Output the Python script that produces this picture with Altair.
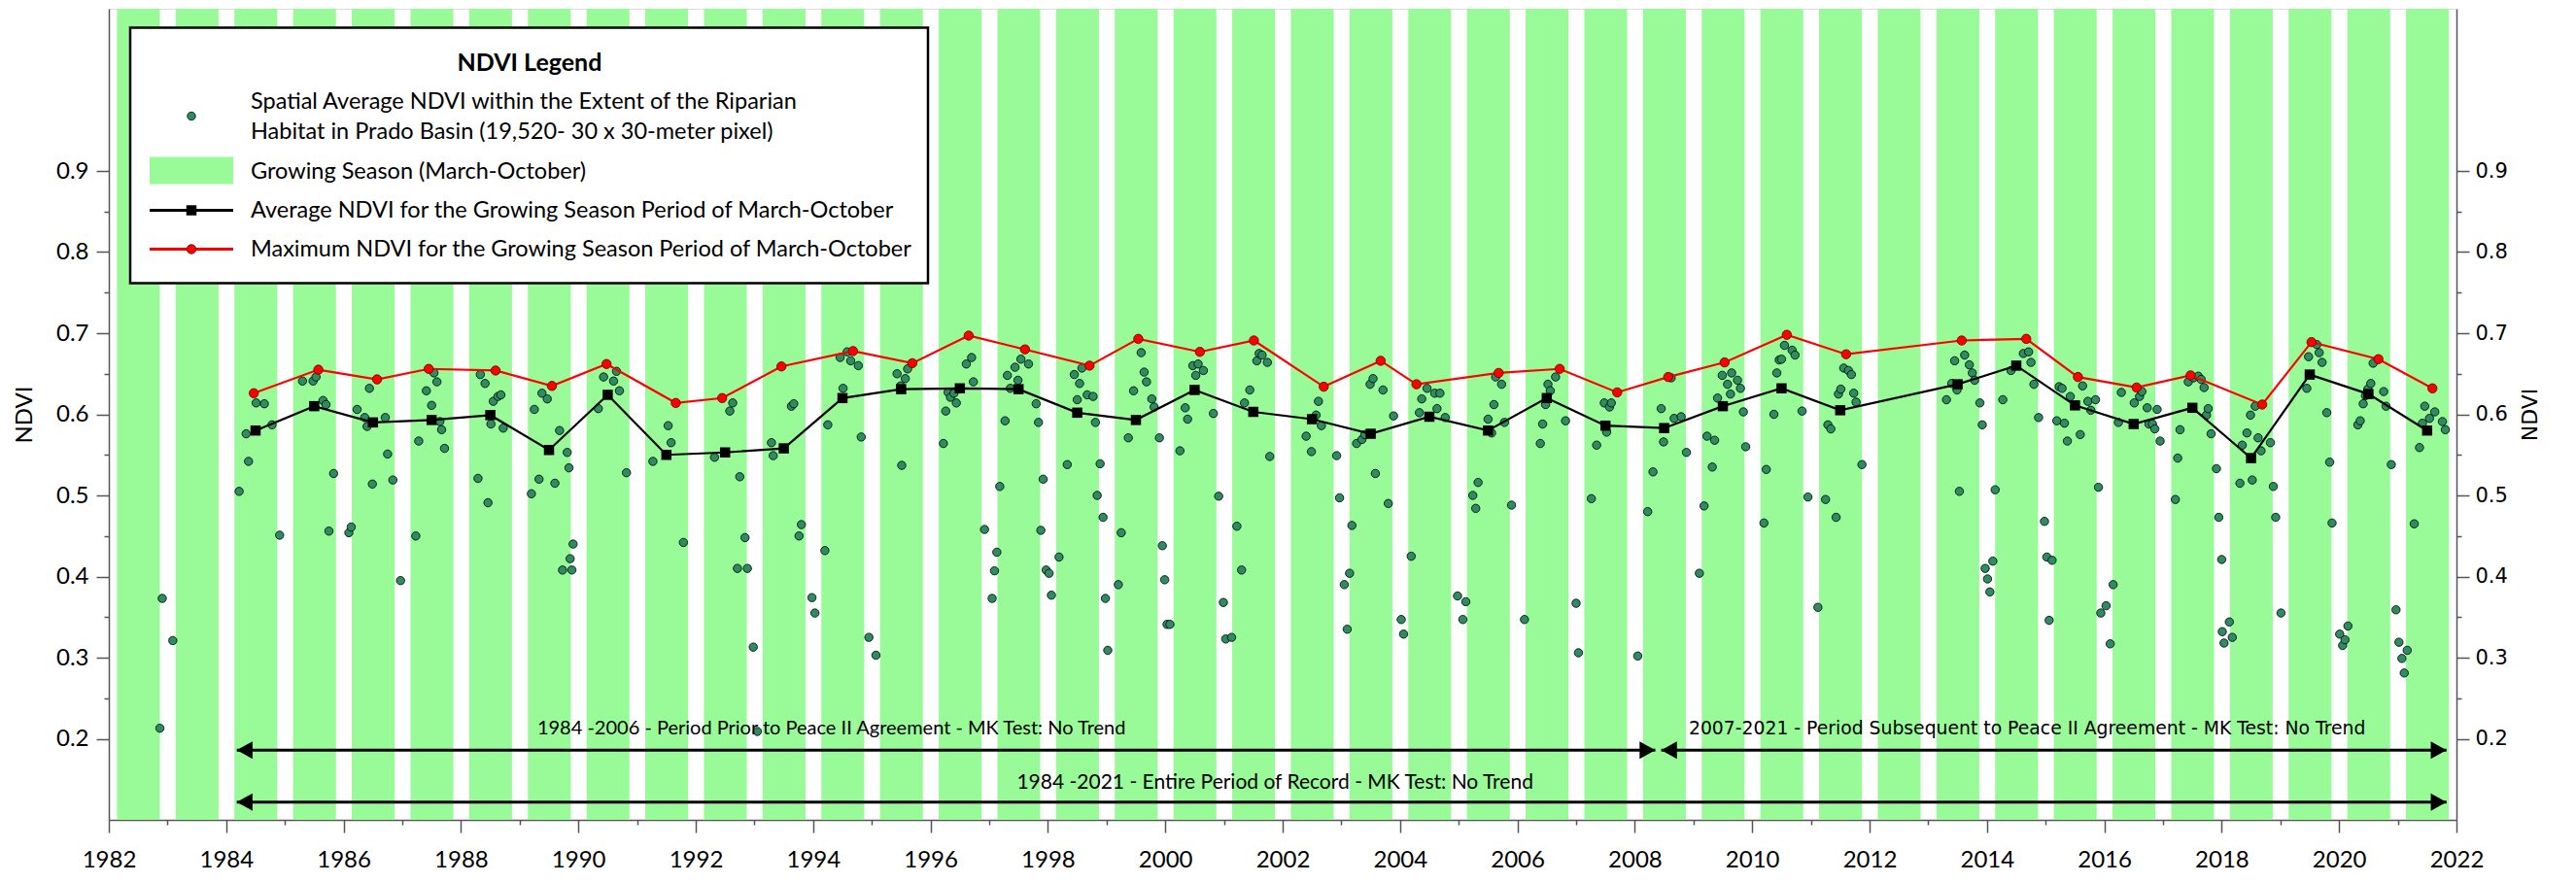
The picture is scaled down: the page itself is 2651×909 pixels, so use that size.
import altair as alt
import pandas as pd

# ---------------- data ----------------
season_years = list(range(1982, 2022))
season_start = 0.14   # fraction of year (March)
season_end = 0.87     # fraction of year (end of October)

avg_years = [1984, 1985, 1986, 1987, 1988, 1989, 1990, 1991, 1992, 1993, 1994, 1995,
             1996, 1997, 1998, 1999, 2000, 2001, 2002, 2003, 2004, 2005, 2006, 2007,
             2008, 2009, 2010, 2011, 2013, 2014, 2015, 2016, 2017, 2018, 2019, 2020, 2021]
avg_ndvi = [0.580, 0.610, 0.590, 0.593, 0.599, 0.556, 0.624, 0.550, 0.553, 0.558, 0.620, 0.631,
            0.632, 0.631, 0.602, 0.593, 0.630, 0.603, 0.594, 0.576, 0.597, 0.580, 0.620, 0.586,
            0.583, 0.610, 0.632, 0.605, 0.637, 0.660, 0.611, 0.588, 0.608, 0.546, 0.649, 0.625, 0.580]

max_date = [1984.47, 1985.57, 1986.57, 1987.45, 1988.59, 1989.55, 1990.48, 1991.66, 1992.45,
            1993.46, 1994.68, 1995.69, 1996.65, 1997.61, 1998.71, 1999.54, 2000.59, 2001.51,
            2002.70, 2003.67, 2004.28, 2005.68, 2006.72, 2007.70, 2008.57, 2009.53, 2010.59,
            2011.60, 2013.57, 2014.67, 2015.55, 2016.55, 2017.47, 2018.69, 2019.53, 2020.67, 2021.59]
max_ndvi = [0.626, 0.655, 0.643, 0.656, 0.654, 0.635, 0.662, 0.614, 0.620, 0.659, 0.678, 0.663,
            0.697, 0.680, 0.660, 0.693, 0.677, 0.691, 0.634, 0.666, 0.637, 0.651, 0.656, 0.627,
            0.646, 0.664, 0.698, 0.674, 0.691, 0.693, 0.646, 0.633, 0.648, 0.612, 0.689, 0.668, 0.632]

obs_date = [
    1982.87, 1982.91, 1983.09,
    1984.22, 1984.34, 1984.38, 1984.51, 1984.65, 1984.78, 1984.91,
    1985.30, 1985.48, 1985.53, 1985.65, 1985.70, 1985.75, 1985.83,
    1986.09, 1986.13, 1986.23, 1986.36, 1986.40, 1986.44, 1986.49, 1986.71, 1986.75, 1986.84, 1986.97,
    1987.23, 1987.28, 1987.41, 1987.50, 1987.54, 1987.59, 1987.64, 1987.67, 1987.72,
    1988.29, 1988.33, 1988.41, 1988.46, 1988.51, 1988.55, 1988.63, 1988.68, 1988.72,
    1989.20, 1989.25, 1989.33, 1989.38, 1989.47, 1989.60, 1989.68, 1989.81, 1989.84, 1989.91, 1989.86, 1989.73, 1989.89,
    1990.34, 1990.43, 1990.60, 1990.65, 1990.70, 1990.82,
    1991.27, 1991.53, 1991.58, 1991.79,
    1992.32, 1992.58, 1992.63, 1992.75, 1992.84, 1992.71, 1992.88, 1992.98,
    1993.05, 1993.29, 1993.32, 1993.63, 1993.67, 1993.76, 1993.80, 1993.98, 1994.03,
    1994.20, 1994.25, 1994.46, 1994.51, 1994.58, 1994.64, 1994.77, 1994.82, 1994.95, 1995.07,
    1995.43, 1995.49, 1995.51, 1995.57, 1995.61,
    1996.22, 1996.26, 1996.30, 1996.34, 1996.40, 1996.44, 1996.61, 1996.70, 1996.73, 1996.92,
    1997.05, 1997.09, 1997.13, 1997.18, 1997.27, 1997.31, 1997.36, 1997.44, 1997.49, 1997.54, 1997.67,
    1997.80, 1997.84, 1997.88, 1997.92, 1997.97, 1998.02, 1998.06,
    1998.19, 1998.33, 1998.45, 1998.50, 1998.54, 1998.58, 1998.67, 1998.77, 1998.81, 1998.84, 1998.89,
    1998.94, 1998.98, 1999.02,
    1999.20, 1999.25, 1999.37, 1999.46, 1999.59, 1999.64, 1999.68, 1999.77, 1999.81, 1999.90, 1999.95,
    1999.99, 2000.03, 2000.08,
    2000.25, 2000.34, 2000.38, 2000.47, 2000.52, 2000.56, 2000.65, 2000.82, 2000.91, 2000.99, 2001.03, 2001.13,
    2001.22, 2001.30, 2001.35, 2001.44, 2001.56, 2001.60, 2001.65, 2001.74, 2001.78,
    2002.40, 2002.49, 2002.57, 2002.61, 2002.66, 2002.92, 2002.97, 2003.05, 2003.10, 2003.14, 2003.18,
    2003.26, 2003.35, 2003.40, 2003.49, 2003.54, 2003.58, 2003.71, 2003.80, 2003.89, 2004.02, 2004.06, 2004.19,
    2004.33, 2004.37, 2004.46, 2004.59, 2004.63, 2004.68, 2004.77, 2004.98, 2005.07, 2005.12,
    2005.24, 2005.29, 2005.33, 2005.50, 2005.56, 2005.60, 2005.63, 2005.73, 2005.78, 2005.90, 2006.12,
    2006.39, 2006.43, 2006.48, 2006.52, 2006.56, 2006.65, 2006.82, 2007.00, 2007.04,
    2007.26, 2007.35, 2007.48, 2007.52, 2007.57, 2007.60, 2008.05,
    2008.22, 2008.31, 2008.45, 2008.49, 2008.62, 2008.67, 2008.79, 2008.88, 2009.10, 2009.18,
    2009.23, 2009.32, 2009.36, 2009.41, 2009.49, 2009.58, 2009.63, 2009.65, 2009.75, 2009.80, 2009.85, 2009.89,
    2010.20, 2010.24, 2010.37, 2010.42, 2010.46, 2010.50, 2010.55, 2010.68, 2010.73, 2010.85, 2010.95, 2011.12,
    2011.25, 2011.29, 2011.34, 2011.43, 2011.47, 2011.51, 2011.56, 2011.64, 2011.69, 2011.73, 2011.77, 2011.87,
    2013.31, 2013.40, 2013.45, 2013.49, 2013.53, 2013.62, 2013.70, 2013.75, 2013.79, 2013.88, 2013.92,
    2013.97, 2014.01, 2014.05, 2014.10, 2014.14,
    2014.27, 2014.41, 2014.62, 2014.71, 2014.75, 2014.80, 2014.88, 2014.98, 2015.02, 2015.06, 2015.11,
    2015.19, 2015.23, 2015.28, 2015.32, 2015.37, 2015.42, 2015.59, 2015.63, 2015.72, 2015.77, 2015.85,
    2015.90, 2015.94, 2016.03, 2016.10, 2016.15,
    2016.24, 2016.29, 2016.51, 2016.60, 2016.64, 2016.73, 2016.76, 2016.82, 2016.86, 2016.90, 2016.95,
    2017.21, 2017.25, 2017.29, 2017.43, 2017.52, 2017.60, 2017.65, 2017.70, 2017.74, 2017.77, 2017.82,
    2017.91, 2017.95, 2018.00, 2018.01, 2018.04, 2018.13, 2018.18,
    2018.31, 2018.35, 2018.43, 2018.49, 2018.52, 2018.57, 2018.62, 2018.67, 2018.83, 2018.88, 2018.92, 2019.01,
    2019.45, 2019.48, 2019.62, 2019.66, 2019.71, 2019.79, 2019.84, 2019.88, 2020.01, 2020.06, 2020.10, 2020.15,
    2020.32, 2020.36, 2020.41, 2020.45, 2020.49, 2020.54, 2020.58, 2020.76, 2020.80, 2020.89, 2020.97,
    2021.02, 2021.07, 2021.11, 2021.16,
    2021.28, 2021.37, 2021.42, 2021.46, 2021.54, 2021.63, 2021.76, 2021.81,
]
obs_ndvi = [
    0.213, 0.373, 0.321,
    0.505, 0.576, 0.542, 0.614, 0.613, 0.587, 0.451,
    0.641, 0.641, 0.646, 0.617, 0.612, 0.456, 0.527,
    0.454, 0.461, 0.606, 0.596, 0.585, 0.632, 0.514, 0.596, 0.551, 0.519, 0.395,
    0.450, 0.567, 0.629, 0.611, 0.651, 0.640, 0.591, 0.581, 0.558,
    0.521, 0.649, 0.638, 0.491, 0.588, 0.616, 0.622, 0.624, 0.583,
    0.502, 0.606, 0.520, 0.626, 0.619, 0.515, 0.580, 0.553, 0.534, 0.440, 0.422, 0.408, 0.408,
    0.607, 0.646, 0.641, 0.653, 0.629, 0.528,
    0.542, 0.586, 0.565, 0.442,
    0.547, 0.604, 0.614, 0.523, 0.448, 0.410, 0.410, 0.313,
    0.209, 0.565, 0.549, 0.610, 0.613, 0.450, 0.464, 0.374, 0.355,
    0.432, 0.587, 0.670, 0.632, 0.677, 0.666, 0.660, 0.572, 0.325, 0.303,
    0.650, 0.635, 0.537, 0.644, 0.656,
    0.564, 0.604, 0.627, 0.621, 0.626, 0.614, 0.662, 0.670, 0.640, 0.458,
    0.373, 0.407, 0.430, 0.511, 0.592, 0.648, 0.632, 0.658, 0.642, 0.668, 0.662,
    0.613, 0.590, 0.457, 0.520, 0.408, 0.404, 0.377,
    0.424, 0.538, 0.649, 0.618, 0.638, 0.657, 0.624, 0.622, 0.590, 0.500, 0.539,
    0.473, 0.373, 0.309,
    0.390, 0.454, 0.571, 0.629, 0.676, 0.652, 0.640, 0.619, 0.609, 0.571, 0.438,
    0.396, 0.341, 0.341,
    0.555, 0.608, 0.594, 0.660, 0.648, 0.662, 0.654, 0.601, 0.499, 0.368, 0.323, 0.325,
    0.462, 0.408, 0.614, 0.630, 0.666, 0.675, 0.673, 0.664, 0.548,
    0.573, 0.554, 0.599, 0.616, 0.586, 0.549, 0.497, 0.390, 0.335, 0.404, 0.463,
    0.564, 0.569, 0.575, 0.637, 0.644, 0.527, 0.630, 0.490, 0.598, 0.347, 0.329, 0.425,
    0.602, 0.619, 0.632, 0.626, 0.607, 0.626, 0.596, 0.376, 0.347, 0.369,
    0.500, 0.484, 0.516, 0.594, 0.577, 0.612, 0.646, 0.637, 0.590, 0.488, 0.347,
    0.564, 0.588, 0.612, 0.637, 0.629, 0.646, 0.592, 0.367, 0.306,
    0.496, 0.562, 0.614, 0.578, 0.609, 0.614, 0.302,
    0.480, 0.529, 0.607, 0.566, 0.645, 0.595, 0.597, 0.553, 0.404, 0.487,
    0.573, 0.535, 0.568, 0.620, 0.648, 0.637, 0.625, 0.651, 0.642, 0.632, 0.603, 0.560,
    0.466, 0.532, 0.600, 0.651, 0.667, 0.668, 0.685, 0.679, 0.673, 0.604, 0.498, 0.362,
    0.495, 0.587, 0.582, 0.473, 0.625, 0.631, 0.657, 0.654, 0.649, 0.626, 0.615, 0.538,
    0.618, 0.638, 0.666, 0.630, 0.505, 0.673, 0.661, 0.651, 0.642, 0.614, 0.587,
    0.410, 0.397, 0.381, 0.419, 0.507,
    0.618, 0.654, 0.675, 0.677, 0.664, 0.637, 0.596, 0.468, 0.424, 0.346, 0.420,
    0.592, 0.634, 0.632, 0.589, 0.567, 0.622, 0.575, 0.635, 0.616, 0.605, 0.618,
    0.510, 0.355, 0.364, 0.317, 0.390,
    0.590, 0.627, 0.614, 0.622, 0.628, 0.608, 0.588, 0.588, 0.582, 0.606, 0.567,
    0.495, 0.546, 0.581, 0.640, 0.645, 0.647, 0.643, 0.633, 0.599, 0.607, 0.576,
    0.533, 0.473, 0.421, 0.332, 0.318, 0.344, 0.325,
    0.515, 0.562, 0.577, 0.599, 0.519, 0.610, 0.571, 0.555, 0.565, 0.511, 0.473, 0.355,
    0.632, 0.671, 0.686, 0.676, 0.664, 0.602, 0.541, 0.466, 0.329, 0.315, 0.322, 0.339,
    0.587, 0.592, 0.613, 0.623, 0.631, 0.638, 0.663, 0.628, 0.610, 0.538, 0.359,
    0.319, 0.299, 0.281, 0.309,
    0.465, 0.559, 0.589, 0.610, 0.595, 0.603, 0.591, 0.581,
]

period_labels = ["1984 -2006 - Period Prior to Peace II Agreement - MK Test: No Trend",
                 "2007-2021 - Period Subsequent to Peace II Agreement - MK Test: No Trend",
                 "1984 -2021 - Entire Period of Record - MK Test: No Trend"]
period_fonts = ["Lato", "DejaVu Sans", "Lato"]
period_sizes = [20, 18.8, 21]
period_start = [1984.18, 2008.45, 1984.18]
period_end = [2008.35, 2021.83, 2021.83]
period_level = [0.186, 0.186, 0.122]
label_x = [1989.30, 2008.92, 1997.47]
label_y = [0.213, 0.213, 0.146]

y_ticks = [0.2, 0.25, 0.3, 0.35, 0.4, 0.45, 0.5, 0.55, 0.6, 0.65, 0.7, 0.75, 0.8, 0.85, 0.9]
x_ticks = list(range(1982, 2023))

# ---------------- frames ----------------
bands = pd.DataFrame({"s": [y + season_start for y in season_years],
                      "e": [y + season_end for y in season_years]})
obs = pd.DataFrame({"t": obs_date, "v": obs_ndvi})
avg = pd.DataFrame({"t": [y + 0.5 for y in avg_years], "v": avg_ndvi})
mx = pd.DataFrame({"t": max_date, "v": max_ndvi})
periods = pd.DataFrame({"a": period_start, "b": period_end, "lvl": period_level})
heads_l = pd.DataFrame({"t": period_start, "v": period_level})
heads_r = pd.DataFrame({"t": period_end, "v": period_level})

W, H = 2416, 835
FONT = "Lato"
GREEN = "#98FB98"
DOT = "#2E8B62"

xscale = alt.Scale(domain=[1982, 2022], nice=False, zero=False)
yscale = alt.Scale(domain=[0.1, 1.1], nice=False, zero=False)

major_y = "abs(datum.value*10 - round(datum.value*10)) < 0.001"
xaxis = alt.Axis(values=x_ticks, title=None, grid=False,
                 labelExpr="datum.value % 2 == 0 ? format(datum.value, 'd') : ''",
                 tickSize={"condition": {"test": "datum.value % 2 == 0", "value": 13}, "value": 5},
                 labelFont=FONT, labelFontSize=24, labelColor="black", labelPadding=16,
                 domainColor="#555555", tickColor="#555555", domainWidth=1.5, tickWidth=1.5,
                 labelFlush=False, labelOverlap=False)
yaxis_left = alt.Axis(values=y_ticks, title="NDVI", grid=False, orient="left",
                      labelExpr=f"{major_y} ? format(datum.value, '.1f') : ''",
                      tickSize={"condition": {"test": major_y, "value": 13}, "value": 5},
                      labelFont=FONT, labelFontSize=24, labelColor="black", labelPadding=8,
                      titleFont=FONT, titleFontSize=24, titleFontWeight="normal", titleColor="black",
                      titleX=-75, titleY=H / 2, titleAngle=270,
                      domainColor="#555555", tickColor="#555555", domainWidth=1.5, tickWidth=1.5,
                      labelOverlap=False, labelFlush=False)
yaxis_right = alt.Axis(values=y_ticks, title="NDVI", grid=False, orient="right",
                       labelExpr=f"{major_y} ? format(datum.value, '.1f') : ''",
                       tickSize={"condition": {"test": major_y, "value": 13}, "value": 5},
                       labelFont="DejaVu Sans", labelFontSize=21, labelColor="black", labelPadding=6,
                       titleFont="DejaVu Sans", titleFontSize=22, titleFontWeight="normal",
                       titleColor="black", titleX=87, titleY=H / 2, titleAngle=270,
                       domainColor="#555555", tickColor="#555555", domainWidth=1.5, tickWidth=1.5,
                       labelOverlap=False, labelFlush=False)


def X(field):
    return alt.X(f"{field}:Q", scale=xscale, axis=xaxis)


def Y(field, axis=None):
    return alt.Y(f"{field}:Q", scale=yscale, axis=axis)


band_layer = alt.Chart(bands).mark_rect(color=GREEN).encode(x=X("s"), x2="e")

scatter = alt.Chart(obs).mark_point(shape="circle", filled=True, fill=DOT, stroke="black",
                                    strokeWidth=0.8, size=72, opacity=1).encode(
    x=X("t"), y=Y("v", yaxis_left))

avg_line = alt.Chart(avg).mark_line(color="black", strokeWidth=2.2).encode(x=X("t"), y=Y("v"))
avg_pts = alt.Chart(avg).mark_point(shape="square", filled=True, color="black", size=110,
                                    opacity=1).encode(x=X("t"), y=Y("v"))
max_line = alt.Chart(mx).mark_line(color="red", strokeWidth=2.2).encode(
    x=X("t"), y=Y("v", yaxis_right))
max_pts = alt.Chart(mx).mark_point(shape="circle", filled=True, fill="red", stroke="#600000",
                                   strokeWidth=0.8, size=90, opacity=1).encode(x=X("t"), y=Y("v"))

arrow_lines = alt.Chart(periods).mark_rule(color="black", strokeWidth=3).encode(
    x=X("a"), x2="b", y=Y("lvl"))
LEFT_HEAD = "M0,0 L1.8,-1 L1.8,1 Z"
RIGHT_HEAD = "M0,0 L-1.8,-1 L-1.8,1 Z"
arrow_l = alt.Chart(heads_l).mark_point(shape=LEFT_HEAD, filled=True, color="black", size=324,
                                       opacity=1).encode(x=X("t"), y=Y("v"))
arrow_r = alt.Chart(heads_r).mark_point(shape=RIGHT_HEAD, filled=True, color="black", size=324,
                                       opacity=1).encode(x=X("t"), y=Y("v"))
label_layers = [
    alt.Chart(pd.DataFrame({"t": [label_x[i]], "v": [label_y[i]], "txt": [period_labels[i]]}))
    .mark_text(align="left", baseline="middle", font=period_fonts[i],
               fontSize=period_sizes[i], color="black")
    .encode(x=X("t"), y=Y("v"), text="txt:N")
    for i in range(len(period_labels))
]

# ---------------- legend (drawn box) ----------------
one = pd.DataFrame({"k": [0]})
lg_box = alt.Chart(one).mark_rect(fill="white", stroke="black", strokeWidth=2.5).encode(
    x=alt.value(22), x2=alt.value(843), y=alt.value(19.4), y2=alt.value(282.4))
lg_title = alt.Chart(one).mark_text(text="NDVI Legend", font=FONT, fontSize=25, fontWeight="bold",
                                    align="center", baseline="middle", color="black").encode(
    x=alt.value(433), y=alt.value(55.5))
lg_dot = alt.Chart(one).mark_point(shape="circle", filled=True, fill=DOT, stroke="black",
                                   strokeWidth=0.8, size=72, opacity=1).encode(
    x=alt.value(85), y=alt.value(110.5))
lg_rect = alt.Chart(one).mark_rect(color=GREEN).encode(
    x=alt.value(42), x2=alt.value(128), y=alt.value(152.5), y2=alt.value(180.5))
lg_black = alt.Chart(one).mark_rule(color="black", strokeWidth=3).encode(
    x=alt.value(42), x2=alt.value(128), y=alt.value(207.5))
lg_sq = alt.Chart(one).mark_point(shape="square", filled=True, color="black", size=110,
                                  opacity=1).encode(x=alt.value(85), y=alt.value(207.5))
lg_red = alt.Chart(one).mark_rule(color="red", strokeWidth=3).encode(
    x=alt.value(42), x2=alt.value(128), y=alt.value(247.5))
lg_rc = alt.Chart(one).mark_point(shape="circle", filled=True, fill="red", stroke="#600000",
                                  strokeWidth=0.8, size=90, opacity=1).encode(
    x=alt.value(85), y=alt.value(247.5))

legend_texts = [
    ("Spatial Average NDVI within the Extent of the Riparian", 95.5),
    ("Habitat in Prado Basin (19,520- 30 x 30-meter pixel)", 126.5),
    ("Growing Season (March-October)", 167.5),
    ("Average NDVI for the Growing Season Period of March-October", 207.5),
    ("Maximum NDVI for the Growing Season Period of March-October", 247.5),
]
lg_text_layers = [
    alt.Chart(one).mark_text(text=t, font=FONT, fontSize=23.5, align="left", baseline="middle",
                             color="black").encode(x=alt.value(146), y=alt.value(yy))
    for t, yy in legend_texts
]

chart = alt.layer(
    band_layer, scatter, avg_line, avg_pts, max_line, max_pts,
    arrow_lines, arrow_l, arrow_r, *label_layers,
    lg_box, lg_title, lg_dot, lg_rect, lg_black, lg_sq, lg_red, lg_rc, *lg_text_layers,
).resolve_axis(y="independent").properties(
    width=W, height=H,
    autosize=alt.AutoSizeParams(type="none"),
    padding={"left": 104, "top": 1, "right": 110, "bottom": 56},
).configure_view(strokeWidth=0).configure(background="white")

chart.save("out.html", embed_options={"renderer": "svg", "actions": False})
